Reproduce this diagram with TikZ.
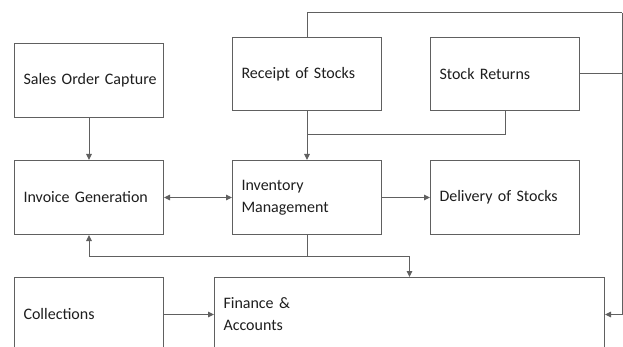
\documentclass[tikz,border=0pt]{standalone}
\usepackage{fontspec}
\setmainfont[WordSpace=0.8]{Carlito}
\usetikzlibrary{arrows.meta}
\definecolor{linegray}{HTML}{606060}
\definecolor{txt}{HTML}{1E1E1E}
\tikzset{
  box/.style={draw=linegray, line width=1pt, anchor=north west, minimum width=149pt,
    minimum height=74pt, text width=131pt, inner xsep=8.5pt, align=left,
    font=\fontsize{16}{22}\selectfont, text=txt},
  conn/.style={draw=linegray, line width=1pt},
  arr/.style={conn, -{Triangle[length=6pt,width=5.5pt]}},
  darr/.style={conn, {Triangle[length=6pt,width=5.5pt]}-{Triangle[length=6pt,width=5.5pt]}}
}
\begin{document}
\begin{tikzpicture}[x=1pt,y=-1pt]
\useasboundingbox (0,0) rectangle (623,347);
\clip (0,0) rectangle (623,347);
\fill[white] (0,0) rectangle (623,347);
\node[box] (sales) at (14,43) {\mbox{Sales Order Capture}};
\node[box, minimum height=73pt] (rec) at (232,37) {Receipt of Stocks};
\node[box, minimum height=73pt] (ret) at (430,37) {Stock Returns};
\node[box] (inv) at (14,160) {Invoice Generation};
\node[box] (invm) at (232,160) {Inventory\\Management};
\node[box] (del) at (430,160) {Delivery of Stocks};
\node[box] (col) at (14,277) {Collections};
\node[box, minimum width=390pt, text width=372pt] (fin) at (214,277) {Finance \&\\Accounts};
\coordinate (r) at (622,13);
\coordinate (j1) at (rec.south |- 0,135);
\coordinate (j2) at (invm.south |- 0,256);
\draw[arr] (sales.south) -- (inv.north);
\draw[arr] (rec.south) -- (invm.north);
\draw[conn] (ret.south) |- (j1);
\draw[conn] (rec.north) |- (r);
\draw[arr] (r) |- (fin.east);
\draw[conn] (ret.east) -- (ret.east -| r);
\draw[darr] (inv.east) -- (invm.west);
\draw[arr] (invm.east) -- (del.west);
\draw[conn] (invm.south) -- (j2);
\draw[arr] (j2) -| (inv.south);
\draw[arr] (j2) -| (fin.north);
\draw[arr] (col.east) -- (fin.west);
\end{tikzpicture}
\end{document}
